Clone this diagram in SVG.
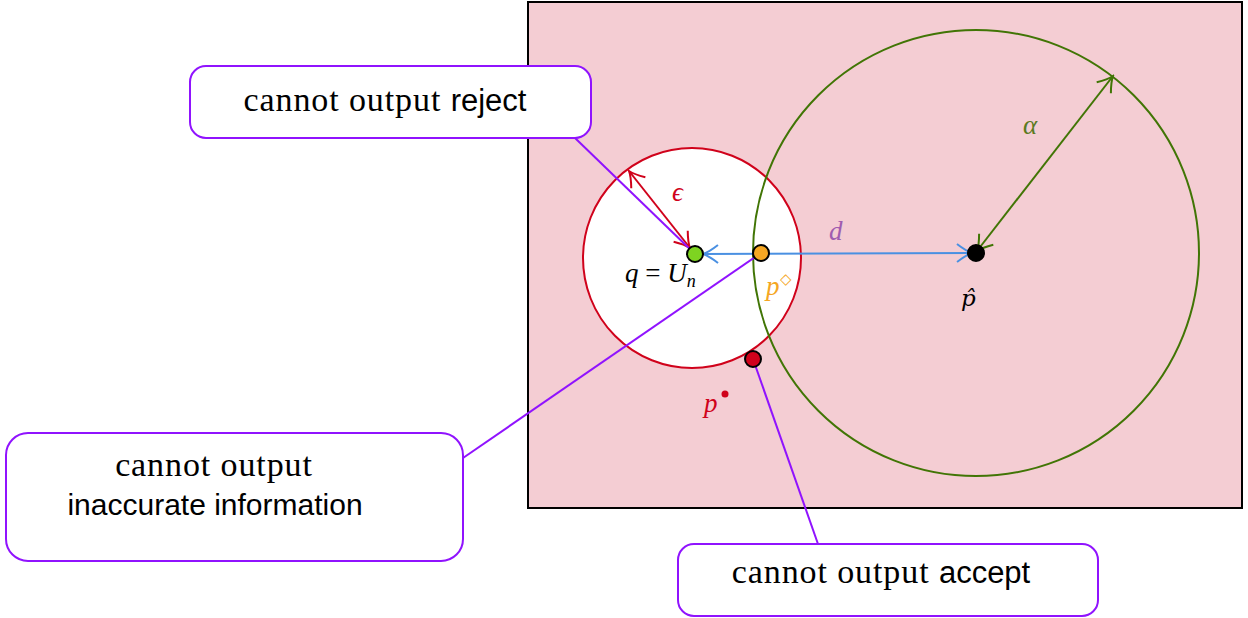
<svg xmlns="http://www.w3.org/2000/svg" width="1248" height="618" viewBox="0 0 1248 618">
<style>
.box{fill:#fff;stroke:#9013fe;stroke-width:2}
.lead{stroke:#9013fe;stroke-width:2;fill:none}
.ser{font-family:"Liberation Serif",serif;font-size:34px;letter-spacing:0.9px;fill:#000}
.san{font-family:"Liberation Sans",sans-serif;font-size:31px;fill:#000}
.math{font-family:"Liberation Serif",serif;font-style:italic;font-size:27px}
.dot{stroke:#000;stroke-width:2}
</style>
<defs>
<marker id="mb" viewBox="-17 -11 19 22" markerWidth="19" markerHeight="22" refX="0" refY="0" orient="auto-start-reverse" markerUnits="userSpaceOnUse"><path d="M-15,-9 Q-6,-2 0,0 Q-6,2 -15,9" fill="none" stroke="#4a90e2" stroke-width="2"/></marker>
<marker id="mg" viewBox="-17 -11 19 22" markerWidth="19" markerHeight="22" refX="0" refY="0" orient="auto-start-reverse" markerUnits="userSpaceOnUse"><path d="M-15,-9 Q-6,-2 0,0 Q-6,2 -15,9" fill="none" stroke="#417505" stroke-width="2"/></marker>
<marker id="mr" viewBox="-17 -11 19 22" markerWidth="19" markerHeight="22" refX="0" refY="0" orient="auto-start-reverse" markerUnits="userSpaceOnUse"><path d="M-15,-9 Q-6,-2 0,0 Q-6,2 -15,9" fill="none" stroke="#d0021b" stroke-width="2"/></marker>
</defs>
<g id="region">
<rect x="528" y="2" width="714" height="506" fill="#f4cdd3" stroke="#000" stroke-width="2"/>
<ellipse cx="692" cy="258" rx="109" ry="110" fill="#fff" stroke="#d0021b" stroke-width="2"/>
<circle cx="976" cy="253" r="223" fill="none" stroke="#417505" stroke-width="2"/>
</g>
<g id="connectors">
<line x1="703" y1="254" x2="972" y2="253" stroke="#4a90e2" stroke-width="2" marker-start="url(#mb)" marker-end="url(#mb)"/>
<line x1="977" y1="251" x2="1113" y2="76" stroke="#417505" stroke-width="2" marker-start="url(#mg)" marker-end="url(#mg)"/>
<line x1="629" y1="171" x2="690" y2="248" stroke="#d0021b" stroke-width="2" marker-start="url(#mr)" marker-end="url(#mr)"/>
<line class="lead" x1="575" y1="138" x2="695" y2="254"/>
<line class="lead" x1="463" y1="458" x2="761" y2="253"/>
<line class="lead" x1="818" y1="544" x2="753" y2="359"/>
</g>
<g id="points">
<circle class="dot" cx="695" cy="254" r="8" fill="#7ed321"/>
<circle class="dot" cx="761" cy="253" r="8" fill="#f5a623"/>
<circle class="dot" cx="976" cy="253" r="8" fill="#000"/>
<circle class="dot" cx="753" cy="359" r="8" fill="#d0021b"/>
</g>
<g id="labels">
<text class="math" x="672" y="201" fill="#d0021b" font-size="24">ϵ</text>
<text class="math" x="1023" y="134" fill="#5b7a1f">α</text>
<text class="math" x="829" y="240" fill="#a05cb0">d</text>
<text x="961" y="306" fill="#000" font-family="DejaVu Serif,serif" font-style="italic" font-size="23">p̂</text>
<text class="math" x="625" y="282" fill="#000">q <tspan font-style="normal">=</tspan> U<tspan font-size="18" dy="5">n</tspan></text>
<text class="math" x="766" y="295" fill="#f5a623">p<tspan font-size="15" font-style="normal" dy="-11">◇</tspan></text>
<text class="math" x="704" y="412" fill="#d0021b">p</text>
<circle cx="725" cy="394" r="3.5" fill="#d0021b"/>
</g>
<g id="box-reject">
<rect class="box" x="190" y="66" width="401" height="72" rx="16"/>
<text x="385" y="111" text-anchor="middle"><tspan class="ser">cannot output </tspan><tspan class="san">reject</tspan></text>
</g>
<g id="box-inaccurate">
<rect class="box" x="6" y="433" width="457" height="128" rx="22"/>
<text class="ser" x="214" y="476" text-anchor="middle">cannot output</text>
<text class="san" x="215" y="515" text-anchor="middle" style="font-size:30px">inaccurate information</text>
</g>
<g id="box-accept">
<rect class="box" x="678" y="544" width="420" height="72" rx="16"/>
<text x="881" y="583" text-anchor="middle"><tspan class="ser">cannot output </tspan><tspan class="san">accept</tspan></text>
</g>
</svg>
